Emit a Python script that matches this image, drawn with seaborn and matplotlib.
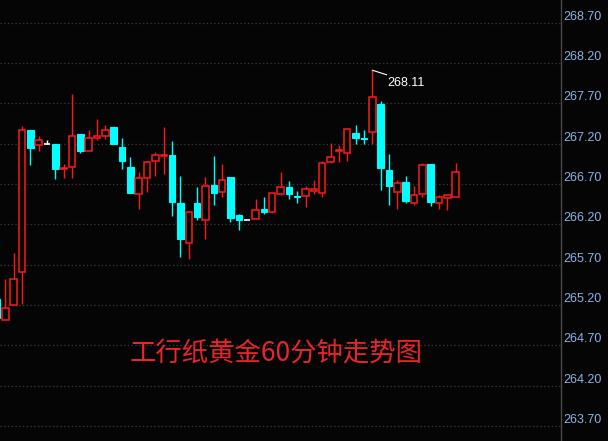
import matplotlib
matplotlib.use("Agg")
import matplotlib.pyplot as plt
import seaborn as sns
import numpy as np
import pandas as pd

# ---- data ----
opens = [265.28, 265.01, 265.20, 265.61, 267.37, 267.18, 267.19, 267.20, 266.89, 266.91,
         267.32, 267.11, 267.27, 267.29, 267.40, 267.16, 266.91, 266.57, 266.77, 266.98,
         267.05, 267.06, 266.47, 265.97, 266.47, 266.25, 266.69, 266.60, 266.79, 266.31,
         266.25, 266.26, 266.39, 266.35, 266.58, 266.66, 266.55, 266.55, 266.61, 266.59,
         266.97, 267.11, 267.08, 267.33, 267.27, 267.34, 267.69, 266.87, 266.60, 266.73,
         266.47, 266.57, 266.95, 266.47, 266.53, 266.54]
highs = [265.30, 265.52, 265.85, 267.42, 267.37, 267.30, 267.25, 267.20, 266.95, 267.82,
         267.32, 267.37, 267.51, 267.43, 267.41, 267.27, 267.04, 266.85, 266.98, 267.10,
         267.40, 267.23, 266.80, 266.37, 266.66, 266.79, 267.05, 266.95, 266.79, 266.33,
         266.25, 266.51, 266.54, 266.59, 266.85, 266.74, 266.61, 266.67, 266.75, 266.99,
         267.21, 267.18, 267.38, 267.43, 267.37, 268.11, 267.73, 267.07, 266.75, 266.80,
         266.68, 266.96, 266.95, 266.56, 266.58, 266.96]
lows = [265.02, 265.01, 265.20, 265.21, 266.94, 267.11, 267.19, 266.76, 266.78, 266.78,
        267.09, 267.11, 267.24, 267.26, 267.20, 266.89, 266.59, 266.39, 266.60, 266.80,
        266.82, 266.30, 265.80, 265.77, 266.25, 266.02, 266.44, 266.54, 266.23, 266.13,
        266.25, 266.26, 266.33, 266.34, 266.56, 266.52, 266.47, 266.42, 266.57, 266.54,
        266.96, 266.97, 266.98, 267.19, 267.19, 267.19, 266.62, 266.44, 266.39, 266.47,
        266.44, 266.54, 266.43, 266.39, 266.38, 266.54]
closes = [265.04, 265.16, 265.52, 267.37, 267.15, 267.24, 267.19, 266.89, 266.90, 267.30,
          267.11, 267.27, 267.30, 267.37, 267.20, 266.99, 266.59, 266.77, 266.97, 267.06,
          267.06, 266.48, 266.02, 266.35, 266.29, 266.68, 266.59, 266.75, 266.28, 266.25,
          266.25, 266.38, 266.35, 266.59, 266.66, 266.57, 266.54, 266.64, 266.64, 266.96,
          267.04, 267.12, 267.38, 267.27, 267.26, 267.78, 266.90, 266.67, 266.71, 266.49,
          266.56, 266.93, 266.48, 266.54, 266.56, 266.85]
price_ticks = [263.70, 264.20, 264.70, 265.20, 265.70, 266.20, 266.70, 267.20, 267.70, 268.20, 268.70]
title = "工行纸黄金60分钟走势图"

df = pd.DataFrame({"open": opens, "high": highs, "low": lows, "close": closes})
df["idx"] = np.arange(len(df))

UP, DOWN, FLAT, BG = "#ff1a1a", "#00ffff", "#ffffff", "#050505"

sns.set_theme(style="dark", rc={"axes.facecolor": BG, "figure.facecolor": BG})
plt.rcParams["font.family"] = ["Liberation Sans", "Noto Sans CJK SC", "DejaVu Sans"]

fig = plt.figure(figsize=(6.08, 4.41), dpi=100)
ax = fig.add_axes([0, 0, 561 / 608, 1])
ax.set_facecolor(BG)

w = 0.78
for _, r in df.iterrows():
    i, o, h, l, c = r["idx"], r["open"], r["high"], r["low"], r["close"]
    top, bot = max(o, c), min(o, c)
    if c > o:
        col = UP
        ax.vlines(i, top, h, color=col, lw=1.0, zorder=3)
        ax.vlines(i, l, bot, color=col, lw=1.0, zorder=3)
        ax.bar(i, top - bot, bottom=bot, width=w, facecolor=BG, edgecolor=col, lw=1.1, zorder=4)
    elif c < o:
        col = DOWN
        ax.vlines(i, l, h, color=col, lw=1.0, zorder=3)
        ax.bar(i, top - bot, bottom=bot, width=w, facecolor=col, edgecolor=col, lw=0.8, zorder=4)
    else:
        col = FLAT
        ax.vlines(i, l, h, color=col, lw=1.0, zorder=3)
        ax.hlines(o, i - w / 2, i + w / 2, color=col, lw=1.2, zorder=4)

ax.set_xlim(0.3645, 67.63)
ax.set_ylim(263.515, 268.98)
ax.set_xticks([])
ax.yaxis.tick_right()
ax.set_yticks(price_ticks)
ax.set_yticklabels([f"{t:.2f}" for t in price_ticks])
ax.tick_params(axis="y", length=0, pad=1.5, labelcolor="#8cb4e6", labelsize=9)
for t in ax.get_yticklabels():
    t.set_va("bottom")
ax.grid(axis="y", color="#3c3c3c", linestyle=(0, (1, 2)), lw=0.9)
ax.grid(axis="x", visible=False)
for s in ["top", "left", "bottom"]:
    ax.spines[s].set_visible(False)
ax.spines["right"].set_color("#4a4a4a")
ax.spines["right"].set_linewidth(1.0)

# max annotation
imax = int(np.argmax(highs))
hmax = highs[imax]
ax.annotate("", xy=(imax, hmax), xytext=(10.4, -3.3), textcoords="offset points",
            arrowprops=dict(arrowstyle="-", color="white", lw=0.8, shrinkA=0, shrinkB=0))
ax.annotate(f"{hmax:.2f}", xy=(imax, hmax), xytext=(10.8, -9.5), textcoords="offset points",
            color="white", fontsize=9, ha="left", va="center")

fig.text(276.5 / 608, 1 - 352.8 / 441, title, color="#e8262a", fontsize=19,
         ha="center", va="center", family=["Noto Sans CJK SC", "DejaVu Sans"])

fig.savefig("out.png", dpi=100, facecolor=BG)
